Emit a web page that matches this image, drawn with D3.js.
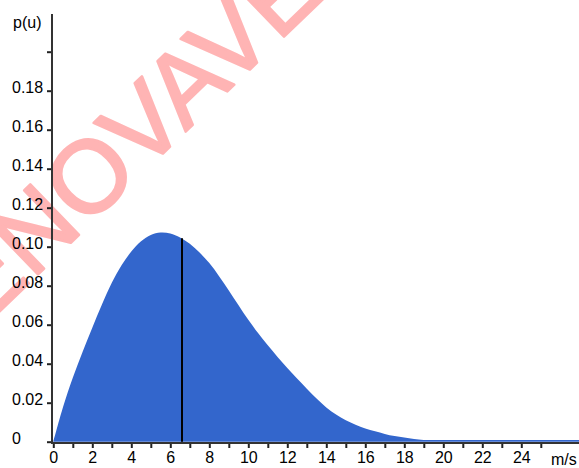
<!DOCTYPE html>
<html>
<head>
<meta charset="utf-8">
<script src="https://cdn.jsdelivr.net/npm/d3@7"></script>
<style>
  html, body { margin: 0; padding: 0; background: #fff; }
  svg { display: block; font-family: "Liberation Sans", Arial, sans-serif; }
</style>
</head>
<body>
<svg id="chart" width="579" height="468"></svg>
<script>
// Wind speed (m/s) and probability density p(u)
const speeds = [0, 0.5, 1, 1.5, 2, 2.5, 3, 3.5, 4, 4.5, 5, 5.5, 6, 6.5, 7, 7.5, 8, 8.5, 9, 9.5,
  10, 10.5, 11, 11.5, 12, 12.5, 13, 13.5, 14, 14.5, 15, 15.5, 16, 16.5, 17, 17.5, 18, 18.5, 19,
  20, 21, 22, 23, 24, 25, 26, 27];
const density = [0, 0.0178, 0.0328, 0.0460, 0.0585, 0.0705, 0.0815, 0.0905, 0.0975, 0.1028, 0.1060, 0.1073,
  0.1068, 0.1047, 0.1015, 0.0970, 0.0916, 0.0849, 0.0776, 0.0700,
  0.0625, 0.0557, 0.0494, 0.0435, 0.0378, 0.0324, 0.0272, 0.0222, 0.0176, 0.0139, 0.0110, 0.0087, 0.0068,
  0.0053, 0.0040, 0.0029, 0.0021, 0.0014, 0.0009,
  0.0009, 0.0009, 0.0009, 0.0009, 0.0009, 0.0009, 0.0009, 0.0009];

// Mean wind speed marker
const meanSpeed = 6.6;
const meanDensity = 0.1043;

// Axis ticks
const yTicks = [0, 0.02, 0.04, 0.06, 0.08, 0.10, 0.12, 0.14, 0.16, 0.18, 0.20];
const yTickLabels = ["0", "0.02", "0.04", "0.06", "0.08", "0.10", "0.12", "0.14", "0.16", "0.18", ""];
const xTicks = d3.range(0, 26);
const xTickLabels = xTicks.map(v => v % 2 === 0 ? String(v) : "");

const yTitle = "p(u)";
const xUnit = "m/s";
const watermark = "ENOVAVE";

const svg = d3.select("#chart");

const x = d3.scaleLinear().domain([0, 27]).range([53.3, 579.8]);
const y = d3.scaleLinear().domain([0, 0.2]).range([441.7, 51.7]);

// Watermark behind the chart
const wmSize = 102;
svg.append("text")
  .attr("transform", "translate(88,175) rotate(-44)")
  .attr("x", -1.778 * wmSize)
  .attr("y", 0.36 * wmSize)
  .attr("font-size", wmSize)
  .attr("fill", "#ffb4b4")
  .attr("stroke", "#ffb4b4")
  .attr("stroke-width", 2.5)
  .attr("stroke-linejoin", "round")
  .text(watermark);

// Distribution area
const area = d3.area()
  .x((d, i) => x(speeds[i]))
  .y0(y(0))
  .y1(d => y(d))
  .curve(d3.curveCatmullRom.alpha(0.5));

svg.append("path")
  .datum(density)
  .attr("d", area)
  .attr("fill", "#3366cc");

// Mean speed line
svg.append("line")
  .attr("x1", x(meanSpeed)).attr("x2", x(meanSpeed))
  .attr("y1", y(0)).attr("y2", y(meanDensity))
  .attr("stroke", "#000")
  .attr("stroke-width", 2);

// Y axis
const yAxis = d3.axisLeft(y)
  .tickValues(yTicks)
  .tickFormat((d, i) => yTickLabels[i])
  .tickSize(5)
  .tickPadding(0)
  .tickSizeOuter(0);

const gy = svg.append("g")
  .attr("transform", "translate(52,0)")
  .call(yAxis);
gy.select(".domain").remove();
gy.selectAll(".tick line").attr("stroke", "#222").attr("stroke-width", 2);
gy.selectAll(".tick text")
  .attr("text-anchor", "start")
  .attr("x", -40)
  .attr("dy", "0.07em")
  .attr("y", 1)
  .attr("font-size", 16)
  .attr("font-family", "Liberation Sans, Arial, sans-serif")
  .attr("fill", "#000");

svg.append("line")
  .attr("x1", 52).attr("x2", 52)
  .attr("y1", 14).attr("y2", 444)
  .attr("stroke", "#333")
  .attr("stroke-width", 2);

// X axis
const xAxis = d3.axisBottom(x)
  .tickValues(xTicks)
  .tickFormat((d, i) => xTickLabels[i])
  .tickSize(5)
  .tickPadding(4)
  .tickSizeOuter(0);

const gx = svg.append("g")
  .attr("transform", "translate(0,443)")
  .call(xAxis);
gx.select(".domain").remove();
gx.selectAll(".tick line").attr("stroke", "#222").attr("stroke-width", 2);
gx.selectAll(".tick text")
  .attr("font-size", 16)
  .attr("font-family", "Liberation Sans, Arial, sans-serif")
  .attr("fill", "#000");

svg.append("line")
  .attr("x1", 51).attr("x2", 579)
  .attr("y1", 443).attr("y2", 443)
  .attr("stroke", "#333")
  .attr("stroke-width", 2);

// Titles
svg.append("text")
  .attr("x", 13).attr("y", 28)
  .attr("font-size", 16)
  .attr("fill", "#000")
  .text(yTitle);

svg.append("text")
  .attr("x", 551).attr("y", 465)
  .attr("font-size", 16)
  .attr("fill", "#000")
  .text(xUnit);
</script>
</body>
</html>
